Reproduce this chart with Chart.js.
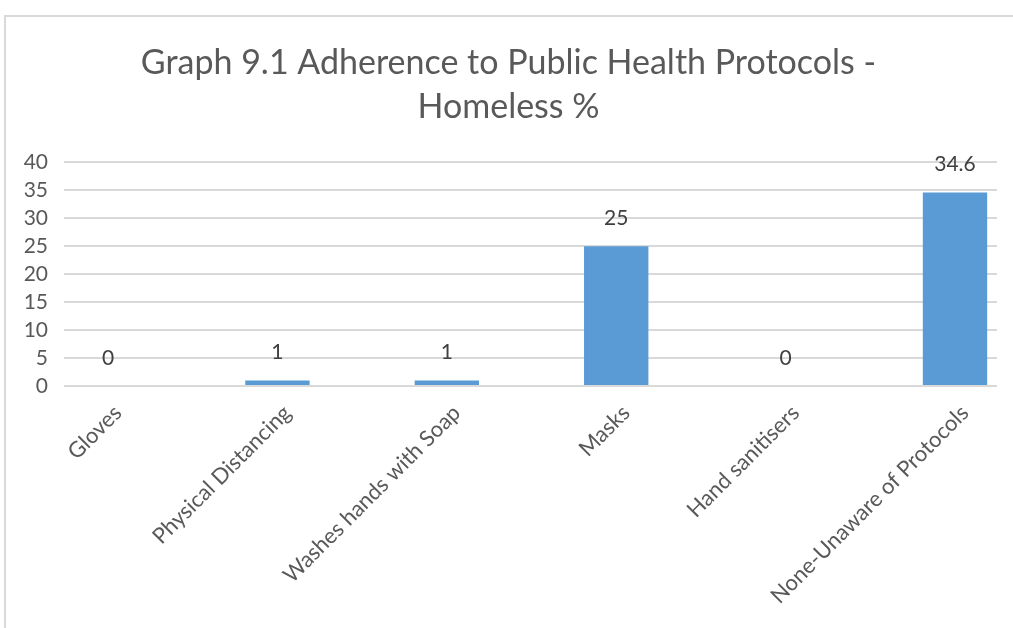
<!DOCTYPE html>
<html>
<head>
<meta charset="utf-8">
<script src="https://cdn.jsdelivr.net/npm/chart.js@4.4.1/dist/chart.umd.min.js"></script>
<style>
  html, body { margin: 0; padding: 0; background: #fff; }
  #wrap { position: absolute; left: 0; top: 0; width: 1013px; height: 628px; }
  #frame { position: absolute; left: 4px; top: 15px; width: 1020px; height: 700px;
    border-top: 2px solid #d9d9d9; border-left: 2px solid #d9d9d9; }
</style>
</head>
<body>
<div id="wrap">
  <div id="frame"></div>
  <canvas id="chart" width="1013" height="628"></canvas>
</div>
<script>
const categories = [
  'Gloves',
  'Physical Distancing',
  'Washes hands with Soap',
  'Masks',
  'Hand sanitisers',
  'None-Unaware of Protocols',
]
const values = [0, 1, 1, 25, 0, 34.6]
const yTicks = [0, 5, 10, 15, 20, 25, 30, 35, 40]

const font = 'Lato, "Open Sans", sans-serif'

// value labels above each bar
const valueLabels = {
  id: 'valueLabels',
  afterDatasetsDraw(chart) {
    const ctx = chart.ctx
    const meta = chart.getDatasetMeta(0)
    ctx.save()
    ctx.font = '21px ' + font
    ctx.fillStyle = '#404040'
    ctx.textAlign = 'center'
    ctx.textBaseline = 'middle'
    meta.data.forEach((bar, i) => {
      ctx.fillText(String(values[i]), bar.x, bar.y - 28)
    })
    ctx.restore()
  },
}

new Chart(document.getElementById('chart'), {
  type: 'bar',
  data: {
    datasets: [{
      data: values.map((v, i) => ({ x: i, y: v })),
      backgroundColor: '#5B9BD5',
      barPercentage: 0.38,
      categoryPercentage: 1,
    }],
  },
  options: {
    responsive: false,
    animation: false,
    layout: { padding: { top: 15, left: 20, right: 16, bottom: 0 } },
    plugins: {
      legend: { display: false },
      tooltip: { enabled: false },
      title: {
        display: true,
        text: ['Graph 9.1 Adherence to Public Health Protocols -', 'Homeless %'],
        color: '#595959',
        font: { family: font, size: 34, weight: 'normal', lineHeight: 1.3 },
        padding: { top: 26, bottom: 33 },
      },
    },
    scales: {
      x: {
        type: 'linear',
        offset: false,
        min: -0.26,
        max: 5.248,
        afterBuildTicks: scale => { scale.ticks = categories.map((c, i) => ({ value: i })) },
        afterFit: scale => { scale.height = 628 - 386 },
        grid: { display: false },
        border: { display: false },
        ticks: {
          callback: v => categories[v],
          minRotation: 45,
          maxRotation: 45,
          autoSkip: false,
          padding: 6,
          labelOffset: 10,
          color: '#595959',
          font: { family: font, size: 22 },
        },
      },
      y: {
        min: 0,
        max: 40,
        afterBuildTicks: scale => { scale.ticks = yTicks.map(v => ({ value: v })) },
        afterFit: scale => { scale.width = 64 - 20 },
        grid: { color: '#d9d9d9', lineWidth: 2, drawTicks: false },
        border: { display: false },
        ticks: {
          autoSkip: false,
          padding: 16,
          color: '#595959',
          font: { family: font, size: 21 },
        },
      },
    },
  },
  plugins: [valueLabels],
})
</script>
</body>
</html>
